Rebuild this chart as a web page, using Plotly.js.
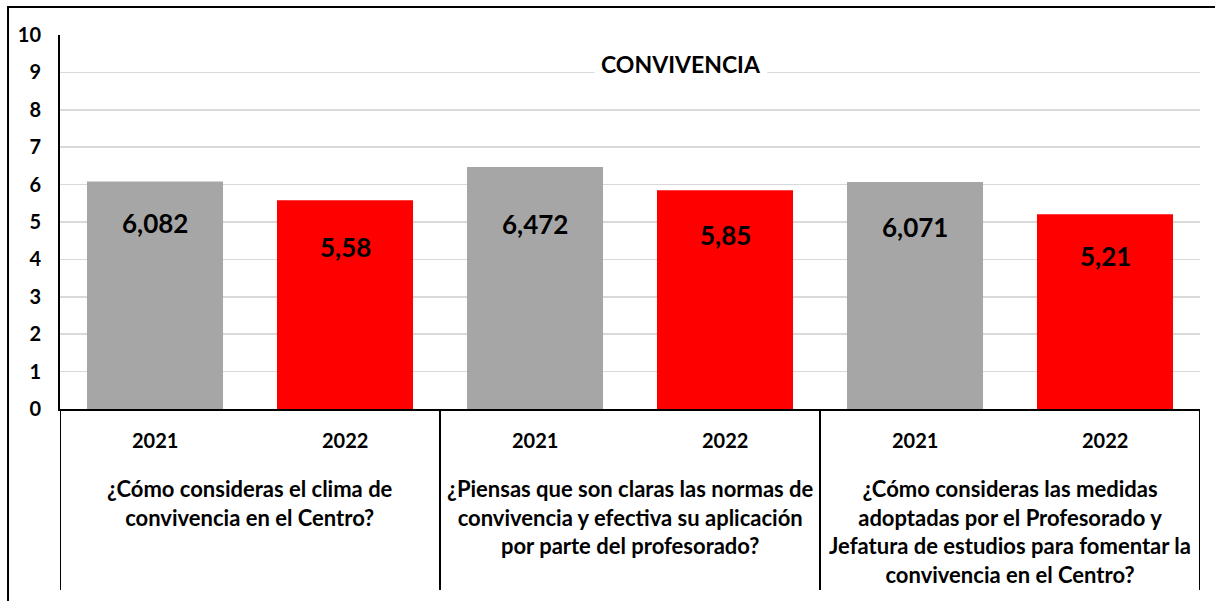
<!DOCTYPE html>
<html>
<head>
<meta charset="utf-8">
<script src="https://cdn.plot.ly/plotly-3.0.1.min.js"></script>
<style>html,body{margin:0;padding:0;background:#fff}#chart{width:1215px;height:601px}</style>
</head>
<body>
<div id="chart"></div>
<script>
// ---- data ----
const questions = [
  "¿Cómo consideras el clima de<br>convivencia en el Centro?",
  "¿Piensas que son claras las normas de<br>convivencia y efectiva su aplicación<br>por parte del profesorado?",
  "¿Cómo consideras las medidas<br>adoptadas por el Profesorado y<br>Jefatura de estudios para fomentar la<br>convivencia en el Centro?"
];
const years = ["2021", "2022"];
const values2021 = [6.082, 6.472, 6.071];
const values2022 = [5.58, 5.85, 5.21];
const labels2021 = ["6,082", "6,472", "6,071"];
const labels2022 = ["5,58", "5,85", "5,21"];
const yTicks = [0,1,2,3,4,5,6,7,8,9,10];
const chartTitle = "CONVIVENCIA";

// ---- style ----
const FONT = "Lato, 'Open Sans', sans-serif";
const colors = {"2021": "#A6A6A6", "2022": "#FF0000"};
const labelShift2021 = [-41, -57, -45];
const labelShift2022 = [-47, -45, -42];

const cats = [];
questions.forEach((q, i) => years.forEach(y => cats.push("q" + i + "_" + y)));
const x2021 = questions.map((q, i) => "q" + i + "_2021");
const x2022 = questions.map((q, i) => "q" + i + "_2022");

const traces = [
  {type: "bar", x: x2021, y: values2021, marker: {color: colors["2021"]}, hoverinfo: "none", showlegend: false},
  {type: "bar", x: x2022, y: values2022, marker: {color: colors["2022"]}, hoverinfo: "none", showlegend: false}
];

const annotations = [];
// value labels
questions.forEach((q, i) => {
  annotations.push({x: x2021[i], y: values2021[i], xref: "x", yref: "y", text: "<b>" + labels2021[i] + "</b>",
    showarrow: false, yanchor: "middle", yshift: labelShift2021[i], font: {family: FONT, size: 26, color: "#000"}});
  annotations.push({x: x2022[i], y: values2022[i], xref: "x", yref: "y", text: "<b>" + labels2022[i] + "</b>",
    showarrow: false, yanchor: "middle", yshift: labelShift2022[i], font: {family: FONT, size: 26, color: "#000"}});
});
// year labels
cats.forEach((c, k) => {
  annotations.push({x: k, y: -0.083, xref: "x", yref: "paper", text: "<b>" + years[k % years.length] + "</b>",
    showarrow: false, yanchor: "middle", font: {family: FONT, size: 20, color: "#000"}});
});
// question labels
questions.forEach((q, i) => {
  const mid = i * years.length + (years.length - 1) / 2;
  annotations.push({x: mid, y: -0.172, xref: "x", yref: "paper", text: "<b>" + q + "</b>",
    showarrow: false, yanchor: "top", align: "center", font: {family: FONT, size: 22, color: "#000"}});
});
// title
annotations.push({x: 0.545, y: 0.922, xref: "paper", yref: "paper", text: "<b>" + chartTitle + "</b>",
  showarrow: false, xanchor: "center", yanchor: "middle", bgcolor: "#fff", borderpad: 6,
  font: {family: FONT, size: 23, color: "#000"}});

const shapes = [];
for (let i = 0; i <= questions.length; i++) {
  const xs = i * years.length - 0.5;
  shapes.push({type: "line", xref: "x", yref: "paper", x0: xs, x1: xs, y0: 0, y1: -0.484,
    line: {color: "#000", width: 2}});
}
// outer chart border
shapes.push({type: "rect", xref: "paper", yref: "paper", x0: -0.0456, x1: 1.03, y0: -0.6, y1: 1.0749,
  line: {color: "#000", width: 2}, fillcolor: "rgba(0,0,0,0)"});

const layout = {
  width: 1215, height: 601,
  margin: {l: 60, r: 15, t: 35, b: 192},
  paper_bgcolor: "#fff", plot_bgcolor: "#fff",
  barmode: "overlay", bargap: 0.284,
  xaxis: {type: "category", categoryorder: "array", categoryarray: cats, range: [-0.5, cats.length - 0.5],
    showticklabels: false, ticks: "", showgrid: false, zeroline: false,
    showline: true, linecolor: "#000", linewidth: 2, fixedrange: true},
  yaxis: {range: [0, 10], tickvals: yTicks, ticktext: yTicks.map(v => "<b>" + v + "</b>"),
    showgrid: true, gridcolor: "#D9D9D9", gridwidth: 1.5, zeroline: false,
    showline: true, linecolor: "#000", linewidth: 2, ticks: "outside", ticklen: 13, tickcolor: "rgba(0,0,0,0)",
    tickfont: {family: FONT, size: 20, color: "#000"}, fixedrange: true},
  annotations: annotations,
  shapes: shapes,
  font: {family: FONT}
};

Plotly.newPlot("chart", traces, layout, {displayModeBar: false, staticPlot: true});
</script>
</body>
</html>
